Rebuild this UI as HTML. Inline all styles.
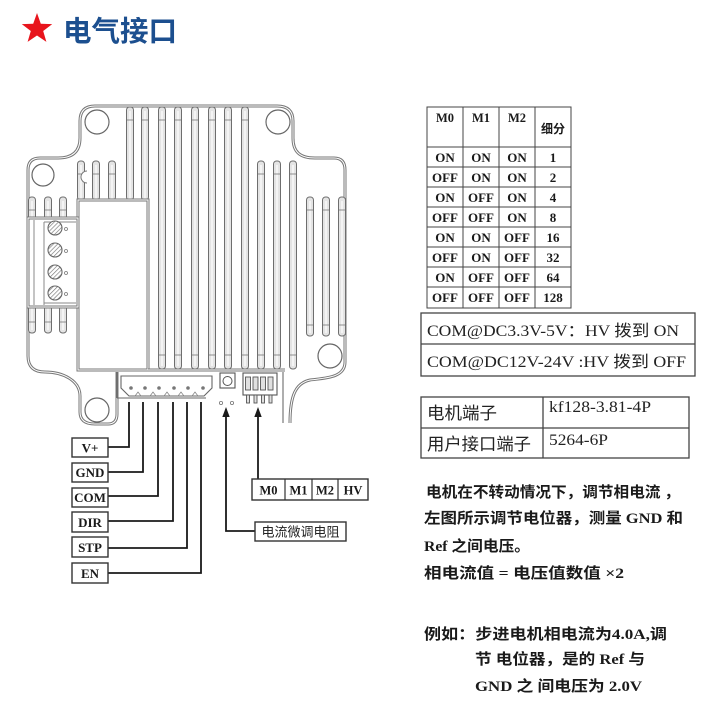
<!DOCTYPE html>
<html><head><meta charset="utf-8"><style>
html,body{margin:0;padding:0;background:#fff;}
svg{display:block;}
.t{font-family:"Liberation Serif","Noto Sans CJK SC",serif;font-weight:bold;fill:#1a1a1a;}
.cj{font-family:"Liberation Serif","Noto Sans CJK SC",sans-serif;}
</style></head><body>
<svg width="718" height="715" viewBox="0 0 718 715" xmlns="http://www.w3.org/2000/svg">
<defs>
<pattern id="hatch" patternUnits="userSpaceOnUse" width="3" height="3" patternTransform="rotate(45)">
<rect width="3" height="3" fill="#fff"/><line x1="0" y1="0" x2="0" y2="3" stroke="#777" stroke-width="1.3"/>
</pattern>
</defs>
<rect width="718" height="715" fill="#fff"/>

<!-- title -->
<polygon points="37,13 40.8,23.7 52.2,24.1 43.2,31 46.4,41.9 37,35.5 27.6,41.9 30.8,31 21.8,24.1 33.2,23.7" fill="#e8141c"/>
<text x="63" y="41" font-family="'Noto Sans CJK SC',sans-serif" font-weight="bold" font-size="28.5" fill="#1c4f8f">电气接口</text>

<!-- board outline double line -->
<g fill="none" stroke-linejoin="round">
<path d="M117,372 V414 Q117,424 108,424 H95 Q80,424 80,412 V396 C80,380 62,372 45,372 Q28,372 28,356 V170 Q28,158 40,158 H58 C72,158 80,152 80,138 V121 Q80,106 95,106 H277 Q293,106 293,121 V138 C293,152 300,158 315,158 H334 Q345,158 345,170 V362 C345,378 325,378 310,380 C296,383 290,395 290,423" stroke="#777" stroke-width="3"/>
<path d="M117,372 V414 Q117,424 108,424 H95 Q80,424 80,412 V396 C80,380 62,372 45,372 Q28,372 28,356 V170 Q28,158 40,158 H58 C72,158 80,152 80,138 V121 Q80,106 95,106 H277 Q293,106 293,121 V138 C293,152 300,158 315,158 H334 Q345,158 345,170 V362 C345,378 325,378 310,380 C296,383 290,395 290,423" stroke="#fff" stroke-width="1"/>
<line x1="283" y1="372" x2="283" y2="423" stroke="#777" stroke-width="1.2"/>
</g>

<!-- holes -->
<g fill="#fff" stroke="#666" stroke-width="1.2">
<circle cx="97" cy="122" r="12"/>
<circle cx="43" cy="175" r="11"/>
<circle cx="278" cy="122" r="12"/>
<circle cx="330" cy="356" r="12"/>
<circle cx="97" cy="410" r="12"/>
</g>

<!-- fins -->
<g stroke="#6e6e6e" stroke-width="1" fill="#e4e4e4">
<rect x="126.5" y="107" width="7" height="93" rx="3"/>
<rect x="141.5" y="107" width="7" height="93" rx="3"/>
<rect x="158.5" y="107" width="7" height="262" rx="3"/>
<rect x="174.5" y="107" width="7" height="262" rx="3"/>
<rect x="191.5" y="107" width="7" height="262" rx="3"/>
<rect x="208.5" y="107" width="7" height="262" rx="3"/>
<rect x="224.5" y="107" width="7" height="262" rx="3"/>
<rect x="241.5" y="107" width="7" height="262" rx="3"/>
<rect x="77.5" y="161" width="7" height="39" rx="3"/>
<rect x="92.5" y="161" width="7" height="39" rx="3"/>
<rect x="108.5" y="161" width="7" height="39" rx="3"/>
<rect x="257.5" y="161" width="7" height="208" rx="3"/>
<rect x="273.5" y="161" width="7" height="208" rx="3"/>
<rect x="289.5" y="161" width="7" height="208" rx="3"/>
<rect x="28.5" y="197" width="7" height="136" rx="3"/>
<rect x="44.5" y="197" width="7" height="136" rx="3"/>
<rect x="59.5" y="197" width="7" height="136" rx="3"/>
<rect x="306.5" y="197" width="7" height="139" rx="3"/>
<rect x="322.5" y="197" width="7" height="139" rx="3"/>
<rect x="338.5" y="197" width="7" height="139" rx="3"/>
</g>
<g stroke="#fff" stroke-width="1.2">
<line x1="130" y1="111" x2="130" y2="200"/><line x1="145" y1="111" x2="145" y2="200"/>
<line x1="162" y1="111" x2="162" y2="366"/><line x1="178" y1="111" x2="178" y2="366"/>
<line x1="195" y1="111" x2="195" y2="366"/><line x1="212" y1="111" x2="212" y2="366"/>
<line x1="228" y1="111" x2="228" y2="366"/><line x1="245" y1="111" x2="245" y2="366"/>
<line x1="81" y1="165" x2="81" y2="200"/><line x1="96" y1="165" x2="96" y2="200"/><line x1="112" y1="165" x2="112" y2="200"/>
<line x1="261" y1="165" x2="261" y2="366"/><line x1="277" y1="165" x2="277" y2="366"/><line x1="293" y1="165" x2="293" y2="366"/>
<line x1="32" y1="201" x2="32" y2="330"/><line x1="48" y1="201" x2="48" y2="330"/><line x1="63" y1="201" x2="63" y2="330"/>
<line x1="310" y1="201" x2="310" y2="333"/><line x1="326" y1="201" x2="326" y2="333"/><line x1="342" y1="201" x2="342" y2="333"/>
</g>
<g stroke="#6e6e6e" stroke-width="0.8">
<path d="M126.5,120h7M141.5,120h7M158.5,120h7M174.5,120h7M191.5,120h7M208.5,120h7M224.5,120h7M241.5,120h7"/>
<path d="M77.5,174h7M92.5,174h7M108.5,174h7M257.5,174h7M273.5,174h7M289.5,174h7"/>
<path d="M28.5,210h7M44.5,210h7M59.5,210h7M306.5,210h7M322.5,210h7M338.5,210h7"/>
<path d="M158.5,355h7M174.5,355h7M191.5,355h7M208.5,355h7M224.5,355h7M241.5,355h7M257.5,355h7M273.5,355h7M289.5,355h7"/>
<path d="M28.5,322h7M44.5,322h7M59.5,322h7M306.5,325h7M322.5,325h7M338.5,325h7"/>
</g>
<path d="M87,171 a6,6 0 0 0 0,12" fill="#fff" stroke="#777" stroke-width="1"/>

<!-- big box -->
<rect x="78" y="200" width="70" height="170" fill="#fff" stroke="#777" stroke-width="3"/>
<rect x="78" y="200" width="70" height="170" fill="none" stroke="#fff" stroke-width="1"/>
<line x1="148" y1="370" x2="285" y2="370" stroke="#777" stroke-width="3"/>
<line x1="148" y1="370" x2="285" y2="370" stroke="#fff" stroke-width="1"/>

<!-- terminal block -->
<rect x="28" y="218" width="50" height="89" fill="#fff" stroke="#777" stroke-width="3"/>
<rect x="28" y="218" width="50" height="89" fill="none" stroke="#fff" stroke-width="1"/>
<line x1="34" y1="220" x2="34" y2="305" stroke="#888" stroke-width="1"/>
<line x1="44" y1="222" x2="44" y2="305" stroke="#888" stroke-width="1"/>
<line x1="44" y1="222" x2="76" y2="222" stroke="#888" stroke-width="1"/>
<line x1="44" y1="303" x2="76" y2="303" stroke="#888" stroke-width="1"/>
<g stroke="#666" stroke-width="1.1" fill="url(#hatch)">
<circle cx="55" cy="228" r="7"/><circle cx="55" cy="250" r="7"/>
<circle cx="55" cy="272" r="7"/><circle cx="55" cy="293" r="7"/>
</g>
<g fill="#fff" stroke="#777" stroke-width="0.8">
<circle cx="66" cy="229" r="1.5"/><circle cx="66" cy="251" r="1.5"/>
<circle cx="66" cy="273" r="1.5"/><circle cx="66" cy="294" r="1.5"/>
</g>

<!-- user connector -->
<g fill="none" stroke="#666" stroke-width="1.1">
<line x1="117" y1="372" x2="117" y2="398"/>
<line x1="117" y1="398" x2="206" y2="398"/>
<path d="M121,376 H212 V388 L204,396 H129 L121,388 Z"/>
</g>
<g fill="#777">
<circle cx="131" cy="388" r="1.8"/><circle cx="145" cy="388" r="1.8"/><circle cx="159" cy="388" r="1.8"/>
<circle cx="174" cy="388" r="1.8"/><circle cx="188" cy="388" r="1.8"/><circle cx="203" cy="388" r="1.8"/>
</g>
<g fill="none" stroke="#888" stroke-width="0.8">
<path d="M135,396 l3,-4 l3,4 M150,396 l3,-4 l3,4 M164,396 l3,-4 l3,4 M178,396 l3,-4 l3,4 M192,396 l3,-4 l3,4"/>
</g>

<!-- potentiometer -->
<rect x="220" y="373" width="15" height="15" fill="#fff" stroke="#555" stroke-width="1.1"/>
<circle cx="227.5" cy="381" r="4.5" fill="#fff" stroke="#555" stroke-width="1"/>
<circle cx="221" cy="403" r="1.6" fill="none" stroke="#777" stroke-width="0.8"/>
<circle cx="232" cy="403" r="1.6" fill="none" stroke="#777" stroke-width="0.8"/>

<!-- dip switch -->
<rect x="243" y="373" width="34" height="22" fill="#fff" stroke="#555" stroke-width="1.1"/>
<g fill="#e0e0e0" stroke="#555" stroke-width="0.9">
<rect x="245.5" y="377" width="5" height="13"/><rect x="253" y="377" width="5" height="13"/>
<rect x="260.5" y="377" width="5" height="13"/><rect x="268" y="377" width="5" height="13"/>
<rect x="246.5" y="395" width="3" height="8"/><rect x="254" y="395" width="3" height="8"/>
<rect x="261.5" y="395" width="3" height="8"/><rect x="269" y="395" width="3" height="8"/>
</g>

<!-- connection lines -->
<g fill="none" stroke="#1a1a1a" stroke-width="1.8">
<path d="M108,447 H129 V402"/>
<path d="M108,472 H143 V402"/>
<path d="M108,496 H158 V402"/>
<path d="M108,521 H173 V402"/>
<path d="M108,548 H187 V402"/>
<path d="M108,573 H201 V402"/>
<path d="M226,414 V531 H255"/>
<path d="M258,414 V479"/>
</g>
<polygon points="226,407 222.3,417 229.7,417" fill="#1a1a1a"/>
<polygon points="258,407 254.3,417 261.7,417" fill="#1a1a1a"/>

<!-- label boxes -->
<g fill="#fff" stroke="#333" stroke-width="1.4">
<rect x="72" y="438" width="36" height="19"/>
<rect x="72" y="463" width="36" height="19"/>
<rect x="72" y="488" width="36" height="19"/>
<rect x="72" y="512" width="36" height="20"/>
<rect x="72" y="537" width="36" height="20"/>
<rect x="72" y="563" width="36" height="20"/>
<rect x="255" y="522" width="91" height="19"/>
<rect x="252" y="479" width="116" height="21"/>
</g>
<g stroke="#333" stroke-width="1.2">
<line x1="285" y1="479" x2="285" y2="500"/><line x1="312" y1="479" x2="312" y2="500"/><line x1="338" y1="479" x2="338" y2="500"/>
</g>
<g class="t" font-size="13" text-anchor="middle">
<text x="90" y="452.5">V+</text>
<text x="90" y="477">GND</text>
<text x="90" y="502">COM</text>
<text x="90" y="527">DIR</text>
<text x="90" y="552">STP</text>
<text x="90" y="578">EN</text>
</g>
<g class="t" font-size="12.5" text-anchor="middle">
<text x="268.5" y="494.5">M0</text>
<text x="298.5" y="494.5">M1</text>
<text x="325" y="494.5">M2</text>
<text x="353" y="494.5">HV</text>
</g>
<text x="300.5" y="536.5" text-anchor="middle" font-family="'Noto Sans CJK SC',sans-serif" font-size="13" fill="#222">电流微调电阻</text>

<!-- microstep table -->
<g fill="none" stroke="#444" stroke-width="1">
<rect x="427" y="107" width="144" height="201"/>
<line x1="463" y1="107" x2="463" y2="308"/><line x1="499" y1="107" x2="499" y2="308"/><line x1="535" y1="107" x2="535" y2="308"/>
<line x1="427" y1="147" x2="571" y2="147"/><line x1="427" y1="167" x2="571" y2="167"/>
<line x1="427" y1="187" x2="571" y2="187"/><line x1="427" y1="207" x2="571" y2="207"/>
<line x1="427" y1="227" x2="571" y2="227"/><line x1="427" y1="247" x2="571" y2="247"/>
<line x1="427" y1="267" x2="571" y2="267"/><line x1="427" y1="287" x2="571" y2="287"/>
</g>
<g class="t" font-size="12.5" text-anchor="middle">
<text x="445" y="122">M0</text><text x="481" y="122">M1</text><text x="517" y="122">M2</text>
</g>
<text x="553" y="133" text-anchor="middle" font-family="'Noto Sans CJK SC',sans-serif" font-weight="bold" font-size="12" fill="#1a1a1a">细分</text>
<g class="t" font-size="13" text-anchor="middle">
<text x="445" y="162">ON</text><text x="481" y="162">ON</text><text x="517" y="162">ON</text><text x="553" y="162">1</text>
<text x="445" y="182">OFF</text><text x="481" y="182">ON</text><text x="517" y="182">ON</text><text x="553" y="182">2</text>
<text x="445" y="202">ON</text><text x="481" y="202">OFF</text><text x="517" y="202">ON</text><text x="553" y="202">4</text>
<text x="445" y="222">OFF</text><text x="481" y="222">OFF</text><text x="517" y="222">ON</text><text x="553" y="222">8</text>
<text x="445" y="242">ON</text><text x="481" y="242">ON</text><text x="517" y="242">OFF</text><text x="553" y="242">16</text>
<text x="445" y="262">OFF</text><text x="481" y="262">ON</text><text x="517" y="262">OFF</text><text x="553" y="262">32</text>
<text x="445" y="282">ON</text><text x="481" y="282">OFF</text><text x="517" y="282">OFF</text><text x="553" y="282">64</text>
<text x="445" y="302">OFF</text><text x="481" y="302">OFF</text><text x="517" y="302">OFF</text><text x="553" y="302">128</text>
</g>

<!-- COM table -->
<g fill="none" stroke="#444" stroke-width="1.3">
<rect x="421" y="313" width="274" height="63"/>
<line x1="421" y1="344" x2="695" y2="344"/>
</g>
<g class="cj" font-size="16" fill="#222">
<text x="427" y="336" textLength="252" lengthAdjust="spacingAndGlyphs">COM@DC3.3V-5V：HV 拨到 ON</text>
<text x="427" y="367" textLength="259" lengthAdjust="spacingAndGlyphs">COM@DC12V-24V :HV 拨到 OFF</text>
</g>

<!-- terminal table -->
<g fill="none" stroke="#444" stroke-width="1.3">
<rect x="421" y="397" width="268" height="61"/>
<line x1="421" y1="428" x2="689" y2="428"/>
<line x1="543" y1="397" x2="543" y2="458"/>
</g>
<g font-family="'Noto Sans CJK SC',sans-serif" font-size="17" fill="#222">
<text x="427" y="419" textLength="70" lengthAdjust="spacingAndGlyphs">电机端子</text>
<text x="427" y="450" textLength="104" lengthAdjust="spacingAndGlyphs">用户接口端子</text>
</g>
<g font-family="'Liberation Serif',serif" font-size="16" fill="#222">
<text x="549" y="412" textLength="102" lengthAdjust="spacingAndGlyphs">kf128-3.81-4P</text>
<text x="549" y="445" textLength="59" lengthAdjust="spacingAndGlyphs">5264-6P</text>
</g>

<!-- description text -->
<g class="t" font-size="15" xml:space="preserve">
<text x="426" y="497" textLength="254" lengthAdjust="spacingAndGlyphs">电机在不转动情况下，调节相电流 ，</text>
<text x="424" y="523" textLength="259" lengthAdjust="spacingAndGlyphs">左图所示调节电位器，测量 GND 和</text>
<text x="424" y="551" textLength="106" lengthAdjust="spacingAndGlyphs">Ref 之间电压。</text>
<text x="424" y="578" textLength="200" lengthAdjust="spacingAndGlyphs">相电流值  =  电压值数值 ×2</text>
<text x="424" y="639" textLength="243" lengthAdjust="spacingAndGlyphs">例如：步进电机相电流为4.0A,调</text>
<text x="475" y="664" textLength="170" lengthAdjust="spacingAndGlyphs">节 电位器，是的 Ref 与</text>
<text x="475" y="691" textLength="167" lengthAdjust="spacingAndGlyphs">GND 之 间电压为 2.0V</text>
</g>
</svg>
</body></html>
